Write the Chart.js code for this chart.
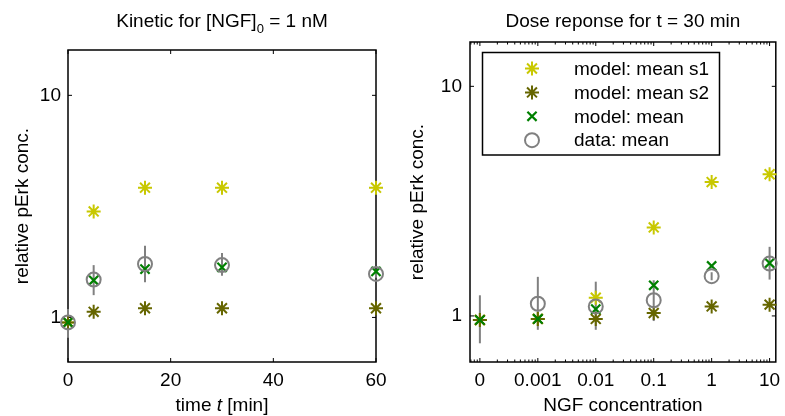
<!DOCTYPE html>
<html><head><meta charset="utf-8">
<script src="https://cdn.jsdelivr.net/npm/chart.js@4.4.1/dist/chart.umd.min.js"></script>
<style>
html,body{margin:0;padding:0;background:#fff;overflow:hidden;width:785px;height:416px;}
canvas{position:absolute;top:0;}
#c1{left:0;width:392px;height:416px;}
#c2{left:392px;width:393px;height:416px;}
</style></head><body>
<canvas id="c1" width="392" height="416"></canvas>
<canvas id="c2" width="393" height="416"></canvas>
<script>
// ---------- data: kinetic (left) ----------
const kineticTimes   = [0, 5, 15, 30, 60];
const kineticS1      = [0.95, 3.00, 3.84, 3.84, 3.84];
const kineticS2      = [0.95, 1.06, 1.10, 1.10, 1.10];
const kineticMean    = [0.95, 1.47, 1.65, 1.68, 1.61];
const kineticData    = [0.95, 1.48, 1.74, 1.72, 1.57];
const kineticErrLow  = [0.81, 1.26, 1.44, 1.54, 1.51];
const kineticErrHigh = [1.09, 1.72, 2.10, 1.95, 1.64];
const kineticXTicks  = [0, 20, 40, 60];
const kineticXLabels = ['0', '20', '40', '60'];

// ---------- data: dose response (right) ----------
const doseLabels    = ['0', '0.001', '0.01', '0.1', '1', '10'];
const dosePositions = [1e-4, 1e-3, 1e-2, 1e-1, 1, 10]; // "0" drawn at 1e-4 on the log axis
const doseS1        = [0.96, 0.97, 1.20, 2.43, 3.83, 4.14];
const doseS2        = [0.96, 0.97, 0.97, 1.03, 1.10, 1.12];
const doseMean      = [0.96, 0.97, 1.07, 1.36, 1.65, 1.70];
const doseData      = [null, 1.13, 1.10, 1.17, 1.49, 1.69];
const doseErrLow    = [0.76, 0.87, 0.87, 0.95, 1.43, 1.44];
const doseErrHigh   = [1.23, 1.48, 1.41, 1.43, 1.55, 2.00];

// ---------- shared ----------
const yTickValues = [1, 10];
const yTickLabels = ['1', '10'];
const seriesLabels = ['model: mean s1', 'model: mean s2', 'model: mean', 'data: mean'];

const C_S1 = '#c8c800', C_S2 = '#666600', C_MEAN = '#008000', C_DATA = '#808080';
const FONT = '"Liberation Sans", Arial, Helvetica, sans-serif';

Chart.defaults.font.family = FONT;
Chart.defaults.font.size = 19;
Chart.defaults.color = '#000';

function pts(xs, ys) { return xs.map((x, i) => ({ x: x, y: ys[i] })); }

function makeDatasets(xs, s1, s2, mean, data) {
  const base = { showLine: false, clip: false, pointBackgroundColor: 'rgba(0,0,0,0)', pointHoverRadius: 7 };
  return [
    Object.assign({}, base, { label: seriesLabels[0], data: pts(xs, s1), pointStyle: 'star', pointRadius: 7, pointBorderWidth: 2, pointBorderColor: C_S1, order: 4 }),
    Object.assign({}, base, { label: seriesLabels[1], data: pts(xs, s2), pointStyle: 'star', pointRadius: 7, pointBorderWidth: 2, pointBorderColor: C_S2, order: 3 }),
    Object.assign({}, base, { label: seriesLabels[2], data: pts(xs, mean), pointStyle: 'crossRot', pointRadius: 6.5, pointBorderWidth: 2.2, pointBorderColor: C_MEAN, order: 2 }),
    Object.assign({}, base, { label: seriesLabels[3], data: pts(xs, data), pointStyle: 'circle', pointRadius: 7, pointBorderWidth: 2, pointBorderColor: C_DATA, order: 1 })
  ];
}

function makeFrame(minorX) {
  return {
    id: 'frame',
    beforeDatasetsDraw(chart) {
      const { ctx, chartArea: a, scales: { x, y } } = chart;
      ctx.save();
      ctx.strokeStyle = '#000';
      const seg = (x1, y1, x2, y2) => { ctx.beginPath(); ctx.moveTo(x1, y1); ctx.lineTo(x2, y2); ctx.stroke(); };
      ctx.lineWidth = 1;
      const L = 4, Lm = 2.5;
      x.ticks.forEach(t => { const p = x.getPixelForValue(t.value); seg(p, a.bottom, p, a.bottom - L); seg(p, a.top, p, a.top + L); });
      if (minorX) {
        for (let k = -6; k <= 2; k++) for (let m = 2; m <= 9; m++) {
          const v = m * Math.pow(10, k);
          if (v <= x.min || v >= x.max) continue;
          const p = x.getPixelForValue(v);
          seg(p, a.bottom, p, a.bottom - Lm); seg(p, a.top, p, a.top + Lm);
        }
      }
      y.ticks.forEach(t => { const p = y.getPixelForValue(t.value); seg(a.left, p, a.left + L, p); seg(a.right, p, a.right - L, p); });
      ctx.lineWidth = 1.5;
      ctx.strokeRect(a.left, a.top, a.right - a.left, a.bottom - a.top);
      ctx.restore();
    }
  };
}

function makeErrorBars(xs, lo, hi) {
  return {
    id: 'errorBars',
    beforeDatasetsDraw(chart) {
      const { ctx, scales: { x, y } } = chart;
      ctx.save();
      ctx.strokeStyle = C_DATA; ctx.lineWidth = 2;
      xs.forEach((xv, i) => {
        const px = x.getPixelForValue(xv);
        ctx.beginPath(); ctx.moveTo(px, y.getPixelForValue(lo[i])); ctx.lineTo(px, y.getPixelForValue(hi[i])); ctx.stroke();
      });
      ctx.restore();
    }
  };
}

function drawRuns(ctx, runs, cx, by) {
  let w = 0;
  runs.forEach(r => { ctx.font = r.f; w += ctx.measureText(r.t).width; });
  let x = cx - w / 2;
  ctx.textAlign = 'left'; ctx.textBaseline = 'alphabetic';
  runs.forEach(r => { ctx.font = r.f; ctx.fillText(r.t, x, by + (r.dy || 0)); x += ctx.measureText(r.t).width; });
}
function drawVertical(ctx, text, bx, cy) {
  ctx.save(); ctx.translate(bx, cy); ctx.rotate(-Math.PI / 2);
  ctx.font = '19px ' + FONT; ctx.textAlign = 'center'; ctx.textBaseline = 'alphabetic';
  ctx.fillText(text, 0, 0); ctx.restore();
}
function makeText(fn) {
  return { id: 'texts', afterDraw(chart) { const ctx = chart.ctx; ctx.save(); ctx.fillStyle = '#000'; fn(ctx, chart); ctx.restore(); } };
}

function axisCommon(extra) {
  return Object.assign({
    bounds: 'data',
    grid: { display: false, drawTicks: false },
    border: { display: false },
    title: { display: false }
  }, extra);
}

const N = '19px ' + FONT;

// ---------- left chart ----------
new Chart(document.getElementById('c1'), {
  type: 'scatter',
  data: { datasets: makeDatasets(kineticTimes, kineticS1, kineticS2, kineticMean, kineticData) },
  options: {
    responsive: false, animation: false, devicePixelRatio: 1,
    layout: { padding: { left: 0, top: 50, right: 16, bottom: 0 } },
    plugins: { legend: { display: false }, tooltip: { enabled: false } },
    scales: {
      x: axisCommon({
        type: 'linear', min: 0, max: 60,
        afterBuildTicks: s => { s.ticks = kineticXTicks.map(v => ({ value: v })); },
        ticks: { padding: 9, maxRotation: 0, autoSkip: false, font: { size: 19, lineHeight: 1 }, callback: (v, i) => kineticXLabels[i] },
        afterFit: s => { s.height = 54; s.paddingLeft = 0; s.paddingRight = 0; }
      }),
      y: axisCommon({
        type: 'logarithmic', min: 0.63, max: 16,
        afterBuildTicks: s => { s.ticks = yTickValues.map(v => ({ value: v })); },
        ticks: { padding: 7, autoSkip: false, font: { size: 19, lineHeight: 1 }, callback: (v, i) => yTickLabels[i] },
        afterFit: s => { s.width = 68; s.paddingTop = 0; s.paddingBottom = 0; }
      })
    }
  },
  plugins: [
    makeFrame(false),
    makeErrorBars(kineticTimes, kineticErrLow, kineticErrHigh),
    makeText((ctx, chart) => {
      const a = chart.chartArea, cx = (a.left + a.right) / 2;
      drawRuns(ctx, [{ t: 'Kinetic for [NGF]', f: N }, { t: '0', f: '13px ' + FONT, dy: 6 }, { t: ' = 1 nM', f: N }], cx, 27);
      drawRuns(ctx, [{ t: 'time ', f: N }, { t: 't', f: 'italic ' + N }, { t: ' [min]', f: N }], cx, 411);
      drawVertical(ctx, 'relative pErk conc.', 27.5, (a.top + a.bottom) / 2);
    })
  ]
});

// ---------- right chart ----------
new Chart(document.getElementById('c2'), {
  type: 'scatter',
  data: { datasets: makeDatasets(dosePositions, doseS1, doseS2, doseMean, doseData) },
  options: {
    responsive: false, animation: false, devicePixelRatio: 1,
    layout: { padding: { left: 0, top: 42, right: 7, bottom: 0 } },
    plugins: { legend: { display: false }, tooltip: { enabled: false } },
    scales: {
      x: axisCommon({
        type: 'logarithmic', min: 6.75e-5, max: 12.8,
        afterBuildTicks: s => { s.ticks = dosePositions.map(v => ({ value: v })); },
        ticks: { padding: 9, maxRotation: 0, autoSkip: false, font: { size: 19, lineHeight: 1 }, callback: (v, i) => doseLabels[i] },
        afterFit: s => { s.height = 54; s.paddingLeft = 0; s.paddingRight = 0; }
      }),
      y: axisCommon({
        type: 'logarithmic', min: 0.63, max: 15.6,
        afterBuildTicks: s => { s.ticks = yTickValues.map(v => ({ value: v })); },
        ticks: { padding: 8, autoSkip: false, font: { size: 19, lineHeight: 1 }, callback: (v, i) => yTickLabels[i] },
        afterFit: s => { s.width = 78; s.paddingTop = 0; s.paddingBottom = 0; }
      })
    }
  },
  plugins: [
    makeFrame(true),
    makeErrorBars(dosePositions, doseErrLow, doseErrHigh),
    makeText((ctx, chart) => {
      const a = chart.chartArea, cx = (a.left + a.right) / 2;
      drawRuns(ctx, [{ t: 'Dose reponse for t = 30 min', f: N }], cx, 27);
      drawRuns(ctx, [{ t: 'NGF concentration', f: N }], cx, 411);
      drawVertical(ctx, 'relative pErk conc.', 31, (a.top + a.bottom) / 2);
      // legend (inside axes)
      const bx = a.left + 12.5, by = a.top + 10.5, bw = 237, bh = 102.5;
      ctx.fillStyle = '#fff'; ctx.fillRect(bx, by, bw, bh);
      ctx.strokeStyle = '#000'; ctx.lineWidth = 1.5; ctx.strokeRect(bx, by, bw, bh);
      chart.data.datasets.forEach((ds, i) => {
        const yy = by + 16 + i * 23.9;
        ctx.save();
        ctx.strokeStyle = ds.pointBorderColor; ctx.fillStyle = 'rgba(0,0,0,0)'; ctx.lineWidth = ds.pointBorderWidth;
        Chart.helpers.drawPoint(ctx, { pointStyle: ds.pointStyle, radius: ds.pointRadius, borderWidth: ds.pointBorderWidth, rotation: 0 }, bx + 49.5, yy);
        ctx.restore();
        ctx.fillStyle = '#000'; ctx.font = N; ctx.textAlign = 'left'; ctx.textBaseline = 'middle';
        ctx.fillText(ds.label, bx + 91.5, yy + 1);
      });
    })
  ]
});
</script>
</body></html>
